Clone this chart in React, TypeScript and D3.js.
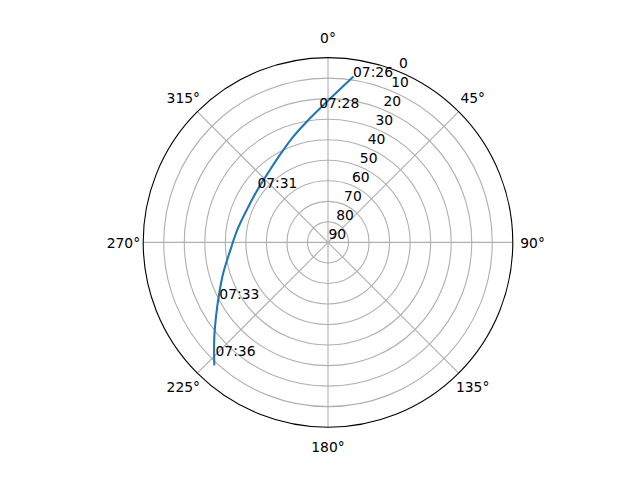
import React from "react";
import * as d3 from "d3";

const passAzimuth = [8.5, 356.9, 350.0, 341.8, 331.2, 321.3, 308.3, 291.7, 277.8, 265.5, 253.6, 244.9, 236.4, 229.4, 223.0];
const passElevation = [8.7, 24.3, 30.3, 35.8, 41.4, 44.8, 47.0, 47.4, 45.4, 42.3, 36.8, 31.5, 24.5, 17.0, 8.8];

const timeLabels = ["07:26", "07:28", "07:31", "07:33", "07:36"];
const timeLabelAzimuth = [8.6, 356.3, 307.8, 242.4, 224.7];
const timeLabelElevation = [8.6, 24.3, 46.5, 30.3, 12.1];

const thetaTicks = [0, 45, 90, 135, 180, 225, 270, 315];
const radialTicks = [0, 10, 20, 30, 40, 50, 60, 70, 80, 90];
const rLabelAngle = 22.5;

const W = 640;
const H = 480;
const cx = 328;
const cy = 242.4;
const R = 184.8;
const FONT = "DejaVu Sans, sans-serif";
const FS = 13.89;

export default function App() {
  const r = d3.scaleLinear().domain([0, 90]).range([R, 0]);
  const rad = (deg: number) => (deg * Math.PI) / 180;
  const px = (az: number, el: number) => cx + r(el) * Math.sin(rad(az));
  const py = (az: number, el: number) => cy - r(el) * Math.cos(rad(az));

  const pts = passAzimuth.map((a, i) => ({ a, e: passElevation[i] }));
  const line = d3
    .lineRadial<{ a: number; e: number }>()
    .angle((d) => rad(d.a))
    .radius((d) => r(d.e))
    .curve(d3.curveCatmullRom.alpha(0.5));

  return (
    <svg
      width={W}
      height={H}
      style={{ position: "absolute", left: 0, top: 0, background: "#fff" }}
      fontFamily={FONT}
      fontSize={FS}
    >
      <rect width={W} height={H} fill="#fff" />
      {/* radial grid circles */}
      {radialTicks
        .filter((t) => t > 0 && t < 90)
        .map((t) => (
          <circle key={"c" + t} cx={cx} cy={cy} r={r(t)} fill="none" stroke="#b0b0b0" strokeWidth={1.11} />
        ))}
      {/* angular grid lines */}
      {thetaTicks.map((t) => (
        <line
          key={"l" + t}
          x1={cx}
          y1={cy}
          x2={px(t, 0)}
          y2={py(t, 0)}
          stroke="#b0b0b0"
          strokeWidth={1.11}
        />
      ))}
      {/* spine */}
      <circle cx={cx} cy={cy} r={R} fill="none" stroke="#000" strokeWidth={1.11} />
      {/* pass track */}
      <path
        d={line(pts) || ""}
        transform={`translate(${cx},${cy})`}
        fill="none"
        stroke="#1f77b4"
        strokeWidth={2.08}
        strokeLinecap="square"
      />
      {/* theta labels */}
      {thetaTicks.map((t) => (
        <text
          key={"tl" + t}
          x={cx + (R + 19.8) * Math.sin(rad(t))}
          y={cy - (R + 19.8) * Math.cos(rad(t)) + 5.1}
          textAnchor="middle"
          fill="#000"
        >
          {t + "°"}
        </text>
      ))}
      {/* radial labels */}
      {radialTicks.map((t) => (
        <text key={"rl" + t} x={px(rLabelAngle, t) + 0.4} y={py(rLabelAngle, t) - 3.2} textAnchor="start" fill="#000">
          {String(t)}
        </text>
      ))}
      {/* time labels */}
      {timeLabels.map((s, i) => (
        <text
          key={"tm" + i}
          x={px(timeLabelAzimuth[i], timeLabelElevation[i])}
          y={py(timeLabelAzimuth[i], timeLabelElevation[i])}
          textAnchor="start"
          fill="#000"
        >
          {s}
        </text>
      ))}
    </svg>
  );
}
